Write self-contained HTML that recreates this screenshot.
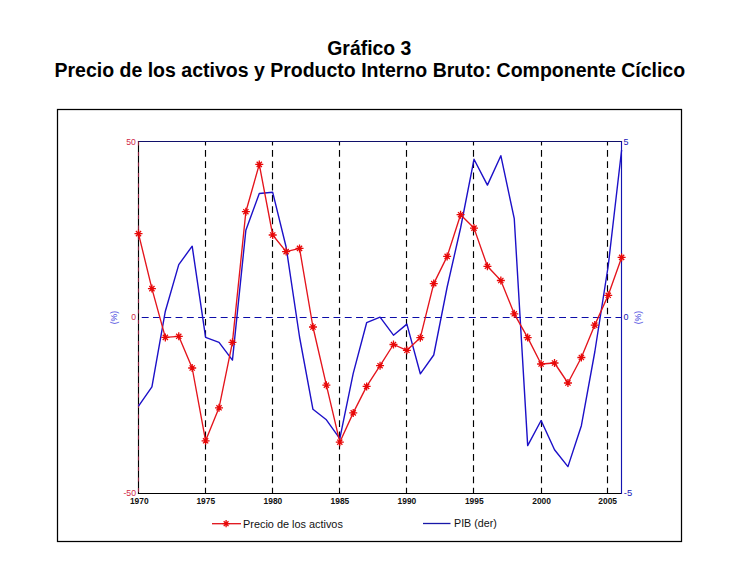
<!DOCTYPE html>
<html><head><meta charset="utf-8"><style>
html,body{margin:0;padding:0;background:#fff;}
body{width:746px;height:572px;overflow:hidden;position:relative;}
svg{position:absolute;left:0;top:0;}
text{font-family:"Liberation Sans",sans-serif;}
</style></head><body>
<svg width="746" height="572" viewBox="0 0 746 572">
<rect width="746" height="572" fill="#fff"/>
<text x="369.3" y="55" text-anchor="middle" font-size="19.4" font-weight="bold" fill="#000">Gráfico 3</text>
<text x="369.8" y="76.7" text-anchor="middle" font-size="19.5" font-weight="bold" fill="#000">Precio de los activos y Producto Interno Bruto: Componente Cíclico</text>
<rect x="57.5" y="109.5" width="624" height="432" fill="none" stroke="#000" stroke-width="1.25"/>
<g stroke="#000" stroke-width="1.15" stroke-dasharray="6.7 4.56" stroke-dashoffset="2.74" fill="none"><line x1="205.5" y1="141.5" x2="205.5" y2="493.5"/><line x1="272.5" y1="141.5" x2="272.5" y2="493.5"/><line x1="339.5" y1="141.5" x2="339.5" y2="493.5"/><line x1="406.5" y1="141.5" x2="406.5" y2="493.5"/><line x1="473.5" y1="141.5" x2="473.5" y2="493.5"/><line x1="541.5" y1="141.5" x2="541.5" y2="493.5"/><line x1="607.5" y1="141.5" x2="607.5" y2="493.5"/></g>
<line x1="138.5" y1="317.5" x2="621.5" y2="317.5" stroke="#0c0ca8" stroke-width="1.15" stroke-dasharray="6.9 4.38" stroke-dashoffset="8.04"/>
<g fill="none" stroke-width="1.15">
<line x1="137.9" y1="493.5" x2="621.5" y2="493.5" stroke="#000"/>
<line x1="137.9" y1="141.5" x2="622.1" y2="141.5" stroke="#10106a"/>
<line x1="138.5" y1="141.5" x2="138.5" y2="493.5" stroke="#000"/>
<line x1="138.5" y1="141.5" x2="138.5" y2="493.5" stroke="#e03060" stroke-dasharray="4 6.5" opacity="0.6"/>
<line x1="621.5" y1="141.5" x2="621.5" y2="494.1" stroke="#1414b0"/>
</g>
<polyline points="138.50,406.2 151.92,386.9 165.34,311.2 178.76,264.6 192.18,246.2 205.60,337.4 219.02,342.3 232.44,360.1 245.86,230.2 259.28,193.5 272.70,192.3 286.12,247.0 299.54,337.0 312.96,409.3 326.38,419.8 339.80,438.7 353.22,373.4 366.64,322.7 380.06,317.2 393.48,335.2 406.90,324.1 420.32,373.8 433.74,355.0 447.16,287.0 460.58,228.0 474.00,159.3 487.42,185.1 500.84,155.7 514.26,218.7 527.68,445.6 541.10,420.5 554.52,449.8 567.94,466.6 581.36,425.7 594.78,352.0 608.20,266.0 621.62,150.0" fill="none" stroke="#1c10c8" stroke-width="1.4" stroke-linejoin="round"/>
<polyline points="138.50,233.6 151.92,288.6 165.34,337.4 178.76,336.3 192.18,368.0 205.60,440.8 219.02,407.8 232.44,342.3 245.86,211.7 259.28,164.4 272.70,235.0 286.12,251.6 299.54,248.4 312.96,327.0 326.38,385.2 339.80,442.2 353.22,412.9 366.64,386.4 380.06,365.7 393.48,344.5 406.90,350.3 420.32,337.7 433.74,283.6 447.16,256.4 460.58,214.7 474.00,228.1 487.42,266.3 500.84,280.5 514.26,313.8 527.68,337.6 541.10,364.0 554.52,363.0 567.94,383.0 581.36,357.5 594.78,325.1 608.20,295.3 621.62,257.4" fill="none" stroke="#e4141c" stroke-width="1.35" stroke-linejoin="round"/>
<path d="M134.50 233.60H142.50M138.50 229.60V237.60M135.90 231.00L141.10 236.20M135.90 236.20L141.10 231.00M147.92 288.60H155.92M151.92 284.60V292.60M149.32 286.00L154.52 291.20M149.32 291.20L154.52 286.00M161.34 337.40H169.34M165.34 333.40V341.40M162.74 334.80L167.94 340.00M162.74 340.00L167.94 334.80M174.76 336.30H182.76M178.76 332.30V340.30M176.16 333.70L181.36 338.90M176.16 338.90L181.36 333.70M188.18 368.00H196.18M192.18 364.00V372.00M189.58 365.40L194.78 370.60M189.58 370.60L194.78 365.40M201.60 440.80H209.60M205.60 436.80V444.80M203.00 438.20L208.20 443.40M203.00 443.40L208.20 438.20M215.02 407.80H223.02M219.02 403.80V411.80M216.42 405.20L221.62 410.40M216.42 410.40L221.62 405.20M228.44 342.30H236.44M232.44 338.30V346.30M229.84 339.70L235.04 344.90M229.84 344.90L235.04 339.70M241.86 211.70H249.86M245.86 207.70V215.70M243.26 209.10L248.46 214.30M243.26 214.30L248.46 209.10M255.28 164.40H263.28M259.28 160.40V168.40M256.68 161.80L261.88 167.00M256.68 167.00L261.88 161.80M268.70 235.00H276.70M272.70 231.00V239.00M270.10 232.40L275.30 237.60M270.10 237.60L275.30 232.40M282.12 251.60H290.12M286.12 247.60V255.60M283.52 249.00L288.72 254.20M283.52 254.20L288.72 249.00M295.54 248.40H303.54M299.54 244.40V252.40M296.94 245.80L302.14 251.00M296.94 251.00L302.14 245.80M308.96 327.00H316.96M312.96 323.00V331.00M310.36 324.40L315.56 329.60M310.36 329.60L315.56 324.40M322.38 385.20H330.38M326.38 381.20V389.20M323.78 382.60L328.98 387.80M323.78 387.80L328.98 382.60M335.80 442.20H343.80M339.80 438.20V446.20M337.20 439.60L342.40 444.80M337.20 444.80L342.40 439.60M349.22 412.90H357.22M353.22 408.90V416.90M350.62 410.30L355.82 415.50M350.62 415.50L355.82 410.30M362.64 386.40H370.64M366.64 382.40V390.40M364.04 383.80L369.24 389.00M364.04 389.00L369.24 383.80M376.06 365.70H384.06M380.06 361.70V369.70M377.46 363.10L382.66 368.30M377.46 368.30L382.66 363.10M389.48 344.50H397.48M393.48 340.50V348.50M390.88 341.90L396.08 347.10M390.88 347.10L396.08 341.90M402.90 350.30H410.90M406.90 346.30V354.30M404.30 347.70L409.50 352.90M404.30 352.90L409.50 347.70M416.32 337.70H424.32M420.32 333.70V341.70M417.72 335.10L422.92 340.30M417.72 340.30L422.92 335.10M429.74 283.60H437.74M433.74 279.60V287.60M431.14 281.00L436.34 286.20M431.14 286.20L436.34 281.00M443.16 256.40H451.16M447.16 252.40V260.40M444.56 253.80L449.76 259.00M444.56 259.00L449.76 253.80M456.58 214.70H464.58M460.58 210.70V218.70M457.98 212.10L463.18 217.30M457.98 217.30L463.18 212.10M470.00 228.10H478.00M474.00 224.10V232.10M471.40 225.50L476.60 230.70M471.40 230.70L476.60 225.50M483.42 266.30H491.42M487.42 262.30V270.30M484.82 263.70L490.02 268.90M484.82 268.90L490.02 263.70M496.84 280.50H504.84M500.84 276.50V284.50M498.24 277.90L503.44 283.10M498.24 283.10L503.44 277.90M510.26 313.80H518.26M514.26 309.80V317.80M511.66 311.20L516.86 316.40M511.66 316.40L516.86 311.20M523.68 337.60H531.68M527.68 333.60V341.60M525.08 335.00L530.28 340.20M525.08 340.20L530.28 335.00M537.10 364.00H545.10M541.10 360.00V368.00M538.50 361.40L543.70 366.60M538.50 366.60L543.70 361.40M550.52 363.00H558.52M554.52 359.00V367.00M551.92 360.40L557.12 365.60M551.92 365.60L557.12 360.40M563.94 383.00H571.94M567.94 379.00V387.00M565.34 380.40L570.54 385.60M565.34 385.60L570.54 380.40M577.36 357.50H585.36M581.36 353.50V361.50M578.76 354.90L583.96 360.10M578.76 360.10L583.96 354.90M590.78 325.10H598.78M594.78 321.10V329.10M592.18 322.50L597.38 327.70M592.18 327.70L597.38 322.50M604.20 295.30H612.20M608.20 291.30V299.30M605.60 292.70L610.80 297.90M605.60 297.90L610.80 292.70M617.62 257.40H625.62M621.62 253.40V261.40M619.02 254.80L624.22 260.00M619.02 260.00L624.22 254.80" stroke="#e80808" stroke-width="1.3" fill="none"/>
<g font-size="9.6" fill="#d02848">
<text x="126.2" y="145" textLength="9.6" lengthAdjust="spacingAndGlyphs">50</text><text x="131.2" y="320" textLength="4.8" lengthAdjust="spacingAndGlyphs">0</text><text x="123.4" y="495.8" textLength="12.6" lengthAdjust="spacingAndGlyphs">-50</text>
</g>
<g font-size="9.6" fill="#2020b8">
<text x="623.6" y="144.8" textLength="5" lengthAdjust="spacingAndGlyphs">5</text><text x="623.6" y="320" textLength="5" lengthAdjust="spacingAndGlyphs">0</text><text x="623.8" y="495.8" textLength="8.4" lengthAdjust="spacingAndGlyphs">-5</text>
</g>
<g font-size="8.7" fill="#4848e0">
<text transform="translate(116.5,317.6) rotate(-90)" text-anchor="middle">(%)</text>
<text transform="translate(641.4,317.6) rotate(-90)" text-anchor="middle">(%)</text>
</g>
<g font-size="9.9" font-weight="bold" fill="#111" text-anchor="middle"><text x="139.3" y="503.9" textLength="18.7" lengthAdjust="spacingAndGlyphs">1970</text><text x="205.8" y="503.9" textLength="18.7" lengthAdjust="spacingAndGlyphs">1975</text><text x="272.9" y="503.9" textLength="18.7" lengthAdjust="spacingAndGlyphs">1980</text><text x="339.9" y="503.9" textLength="18.7" lengthAdjust="spacingAndGlyphs">1985</text><text x="406.9" y="503.9" textLength="18.7" lengthAdjust="spacingAndGlyphs">1990</text><text x="474.3" y="503.9" textLength="18.7" lengthAdjust="spacingAndGlyphs">1995</text><text x="541.6" y="503.9" textLength="18.7" lengthAdjust="spacingAndGlyphs">2000</text><text x="607.7" y="503.9" textLength="18.7" lengthAdjust="spacingAndGlyphs">2005</text></g>
<line x1="212" y1="523.7" x2="241" y2="523.7" stroke="#e01018" stroke-width="1.3"/>
<path d="M222.50 523.70H229.70M226.10 520.10V527.30M223.70 521.30L228.50 526.10M223.70 526.10L228.50 521.30" stroke="#e80808" stroke-width="1.3"/>
<text x="243" y="527.8" font-size="10.9" fill="#111">Precio de los activos</text>
<line x1="423" y1="523.5" x2="450.5" y2="523.5" stroke="#1818a8" stroke-width="1.3"/>
<text x="454" y="527" font-size="10.7" fill="#111">PIB (der)</text>
</svg>
</body></html>
